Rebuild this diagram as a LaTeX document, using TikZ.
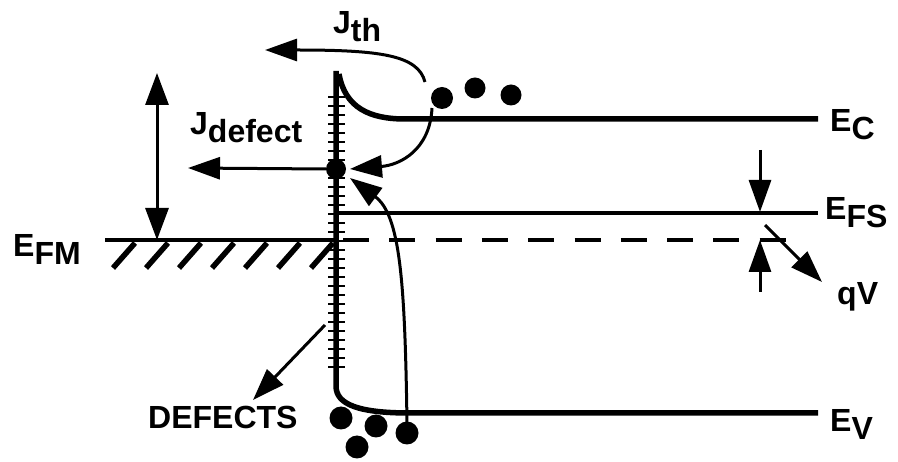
\documentclass[tikz,border=0pt]{standalone}
\usepackage{fontspec}
\setmainfont{Liberation Sans}
\usetikzlibrary{arrows.meta}
\newcommand{\lvl}[2]{#1\raisebox{-8pt}{#2}}
\begin{document}
\begin{tikzpicture}[x=1pt,y=-1pt,
  lab/.style={inner sep=0pt, anchor=base west, font=\fontsize{32}{32}\selectfont\bfseries},
  band/.style={line width=5.5pt},
  thinlvl/.style={line width=3.2pt},
  arr/.style={line width=3pt, -{Triangle[length=32pt,width=22pt]}},
  darr/.style={line width=3pt, {Triangle[length=32pt,width=23pt]}-{Triangle[length=32pt,width=23pt]}},
  tick/.style={line width=2.6pt},
  hatch/.style={line width=5.5pt}
]
\useasboundingbox (0,0) rectangle (898,462);
% named points
\coordinate (itop) at (336,71);
\coordinate (ibot) at (336,386);
\coordinate (ecs) at (405,119);
\coordinate (ece) at (818,119);
\coordinate (evs) at (410,413);
\coordinate (eve) at (818,413);
\coordinate (efs1) at (336,213);
\coordinate (efs2) at (818,213);
\coordinate (dash1) at (343,240);
\coordinate (dash2) at (787,240);
\coordinate (efm1) at (105,240);
\coordinate (efm2) at (336,240);
% bands
\draw[band] (itop) -- (ibot) .. controls (336,405) and (360,413) .. (evs) -- (eve);
\draw[band] (339,74) .. controls (345,108) and (370,119) .. (ecs) -- (ece);
\foreach \y in {97,106,...,367} \draw[tick] (328,\y) -- (345,\y);
\draw[thinlvl] (efs1) -- (efs2);
\draw[thinlvl, dash pattern=on 26pt off 20.3pt] (dash1) -- (dash2);
\draw[line width=4.5pt] (efm1) -- (efm2);
\foreach \t in {135,168,201,234,267,300,333} \draw[hatch] (\t,243) -- (\t-22,268);
% dots
\node[circle,fill=black,inner sep=0pt,minimum size=20pt] (trap) at (336,169) {};
\foreach \p/\r in {{(442,98)}/11,{(475,88)}/10.5,{(511,95)}/10.5,{(341,418)}/11.5,{(376,426)}/11.5,{(357,447)}/11.5,{(407,433)}/11.5}
  \fill \p circle (\r pt);
% arrows
\draw[darr] (157,73) -- (157,240);
\coordinate (jthS) at (425,82);
\coordinate (jthE) at (265,50);
\draw[arr] (jthS) .. controls (418,55) and (380,50) .. (jthE);
\coordinate (jdE) at (188,168);
\draw[arr] (trap.west) -- (jdE);
\coordinate (capS) at (432,108);
\draw[arr] (capS) .. controls (430,150) and (400,165) .. (350,169);
\coordinate (holeS) at (407,424);
\draw[arr] (holeS) .. controls (405,280) and (400,215) .. (350,178);
\coordinate (defS) at (325,325);
\coordinate (defE) at (253,400);
\draw[arr] (defS) -- (defE);
\draw[arr] (760,150) -- (760,212);
\draw[arr] (760,292) -- (760,240);
\draw[arr] (765,225) -- (822,282);
% labels
\node[lab] (lec) at (830,132) {\lvl{E}{C}};
\node[lab] (lefs) at (825,220) {\lvl{E}{FS}};
\node[lab] (lev) at (830,432) {\lvl{E}{V}};
\node[lab] (lefm) at (13,257) {\lvl{E}{FM}};
\node[lab] (lqv) at (837,305) {qV};
\node[lab] (ljth) at (333,34) {\lvl{J}{th}};
\node[lab] (ljd) at (190,135) {\lvl{J}{defect}};
\node[lab] (ldef) at (148,429) {DEFECTS};
\end{tikzpicture}
\end{document}
